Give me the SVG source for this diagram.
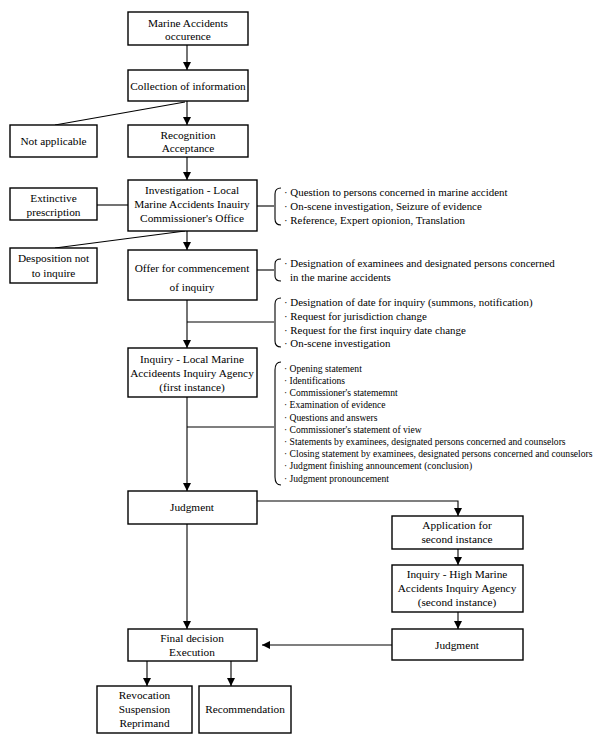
<svg xmlns="http://www.w3.org/2000/svg" width="600" height="744" viewBox="0 0 600 744">
<style>
.box{fill:#fff;stroke:#000;stroke-width:1.4}
.t{font-family:"Liberation Serif","Times New Roman",serif;font-size:11.3px;fill:#000;text-anchor:middle}
.l{font-family:"Liberation Serif","Times New Roman",serif;font-size:10.9px;fill:#000}
.s{font-family:"Liberation Serif","Times New Roman",serif;font-size:9.6px;fill:#000}
.c{fill:none;stroke:#000;stroke-width:1.1}
</style>
<defs>
<marker id="ah2" markerWidth="8" markerHeight="8" refX="8" refY="4" orient="auto" markerUnits="userSpaceOnUse" viewBox="0 0 8 8">
<path d="M0,0 L8,4 L0,8 Z" fill="#000"/>
</marker>
</defs>
<rect width="600" height="744" fill="#fff"/>
<g id="connectors">
<line class="c" x1="187" y1="45" x2="187" y2="70" marker-end="url(#ah2)"/>
<line class="c" x1="187" y1="101" x2="187" y2="125" marker-end="url(#ah2)"/>
<line class="c" x1="185" y1="102" x2="55" y2="125"/>
<line class="c" x1="187" y1="157" x2="187" y2="180" marker-end="url(#ah2)"/>
<line class="c" x1="97" y1="205" x2="128" y2="205"/>
<line class="c" x1="257" y1="206" x2="274" y2="206"/>
<line class="c" x1="187" y1="231" x2="187" y2="250" marker-end="url(#ah2)"/>
<line class="c" x1="185" y1="231" x2="55" y2="248"/>
<line class="c" x1="257" y1="270" x2="274" y2="270"/>
<line class="c" x1="187" y1="300" x2="187" y2="348" marker-end="url(#ah2)"/>
<line class="c" x1="187" y1="322" x2="274" y2="322"/>
<line class="c" x1="187" y1="397" x2="187" y2="491" marker-end="url(#ah2)"/>
<line class="c" x1="187" y1="427" x2="274" y2="427"/>
<polyline class="c" points="257,501 458,501 458,516" marker-end="url(#ah2)"/>
<line class="c" x1="458" y1="549" x2="458" y2="565" marker-end="url(#ah2)"/>
<line class="c" x1="458" y1="612" x2="458" y2="629" marker-end="url(#ah2)"/>
<line class="c" x1="392" y1="645" x2="262" y2="645" marker-end="url(#ah2)"/>
<line class="c" x1="187" y1="524" x2="187" y2="629" marker-end="url(#ah2)"/>
<line class="c" x1="147" y1="661" x2="147" y2="686" marker-end="url(#ah2)"/>
<line class="c" x1="231" y1="661" x2="231" y2="686" marker-end="url(#ah2)"/>
<path class="c" d="M281,188 Q275,188 275,194 V219 Q275,225 281,225"/>
<path class="c" d="M281,259 Q275,259 275,264 V276 Q275,281 281,281"/>
<path class="c" d="M281,298 Q275,298 275,304 V341 Q275,347 281,347"/>
<path class="c" d="M281,362 Q275,362 275,370 V477 Q275,485 281,485"/>
</g>
<g id="n1"><rect class="box" x="128" y="12" width="120" height="33"/><text class="t" x="188" y="27">Marine Accidents</text><text class="t" x="188" y="40">occurence</text></g>
<g id="n2"><rect class="box" x="128" y="70" width="120" height="31"/><text class="t" x="188" y="90">Collection of information</text></g>
<g id="n3"><rect class="box" x="10" y="125" width="87" height="32"/><text class="t" x="53.5" y="145">Not applicable</text></g>
<g id="n4"><rect class="box" x="128" y="125" width="120" height="32"/><text class="t" x="188" y="139">Recognition</text><text class="t" x="188" y="152">Acceptance</text></g>
<g id="n5"><rect class="box" x="10" y="188" width="87" height="32"/><text class="t" x="53.5" y="202">Extinctive</text><text class="t" x="53.5" y="216">prescription</text></g>
<g id="n6"><rect class="box" x="128" y="180" width="129" height="51"/><text class="t" x="192" y="194">Investigation - Local</text><text class="t" x="192" y="208">Marine Accidents Inauiry</text><text class="t" x="192" y="222">Commissioner's Office</text></g>
<g id="n6list"><text class="l" x="284" y="196">· Question to persons concerned in marine accident</text><text class="l" x="284" y="210">· On-scene investigation, Seizure of evidence</text><text class="l" x="284" y="224">· Reference, Expert opionion, Translation</text></g>
<g id="n7"><rect class="box" x="10" y="248" width="87" height="35"/><text class="t" x="53.5" y="262">Desposition not</text><text class="t" x="53.5" y="277">to inquire</text></g>
<g id="n8"><rect class="box" x="128" y="250" width="129" height="50"/><text class="t" x="192" y="272">Offer for commencement</text><text class="t" x="192" y="291">of inquiry</text></g>
<g id="n8list"><text class="l" x="284" y="267">· Designation of examinees and designated persons concerned</text><text class="l" x="290" y="281">in the marine accidents</text></g>
<g id="n8list2"><text class="l" x="284" y="306">· Designation of date for inquiry (summons, notification)</text><text class="l" x="284" y="320">· Request for jurisdiction change</text><text class="l" x="284" y="334">· Request for the first inquiry date change</text><text class="l" x="284" y="347">· On-scene investigation</text></g>
<g id="n9"><rect class="box" x="128" y="348" width="129" height="49"/><text class="t" x="192" y="363">Inquiry - Local Marine</text><text class="t" x="192" y="377">Accideents Inquiry Agency</text><text class="t" x="192" y="391">(first instance)</text></g>
<g id="n9list">
<text class="s" x="284" y="372">· Opening statement</text>
<text class="s" x="284" y="384">· Identifications</text>
<text class="s" x="284" y="396">· Commissioner's statememnt</text>
<text class="s" x="284" y="408">· Examination of evidence</text>
<text class="s" x="284" y="421">· Questions and answers</text>
<text class="s" x="284" y="433">· Commissioner's statement of view</text>
<text class="s" x="284" y="445">· Statements by examinees, designated persons concerned and counselors</text>
<text class="s" x="284" y="457">· Closing statement by examinees, designated persons concerned and counselors</text>
<text class="s" x="284" y="469">· Judgment finishing announcement (conclusion)</text>
<text class="s" x="284" y="482">· Judgment pronouncement</text>
</g>
<g id="n10"><rect class="box" x="128" y="491" width="129" height="33"/><text class="t" x="192" y="511">Judgment</text></g>
<g id="n11"><rect class="box" x="392" y="516" width="131" height="33"/><text class="t" x="457" y="529">Application for</text><text class="t" x="457" y="543">second instance</text></g>
<g id="n12"><rect class="box" x="392" y="565" width="131" height="47"/><text class="t" x="457" y="578">Inquiry - High Marine</text><text class="t" x="457" y="592">Accidents Inquiry Agency</text><text class="t" x="457" y="606">(second instance)</text></g>
<g id="n13"><rect class="box" x="392" y="629" width="131" height="31"/><text class="t" x="457" y="649">Judgment</text></g>
<g id="n14"><rect class="box" x="128" y="629" width="129" height="32"/><text class="t" x="192" y="642">Final decision</text><text class="t" x="192" y="656">Execution</text></g>
<g id="n15"><rect class="box" x="97" y="686" width="95" height="47"/><text class="t" x="144.5" y="699">Revocation</text><text class="t" x="144.5" y="713">Suspension</text><text class="t" x="144.5" y="727">Reprimand</text></g>
<g id="n16"><rect class="box" x="199" y="686" width="92" height="47"/><text class="t" x="245" y="713">Recommendation</text></g>
</svg>
